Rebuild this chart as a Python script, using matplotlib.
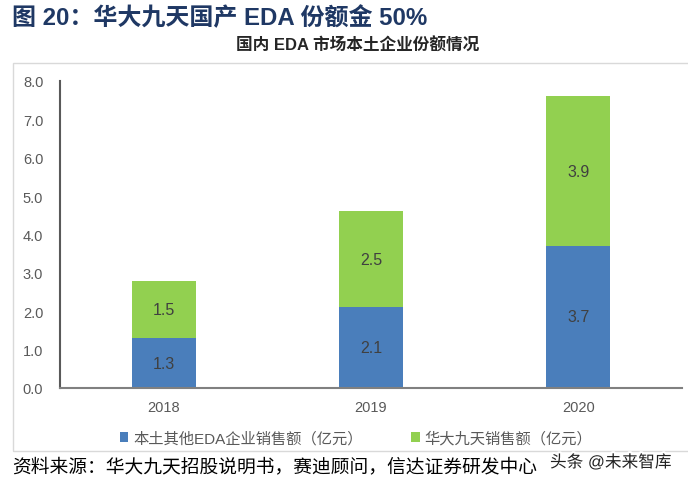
import matplotlib.pyplot as plt
import matplotlib.patheffects as pe
from matplotlib.patches import Rectangle

plt.rcParams['font.family'] = ['Liberation Sans', 'Noto Sans CJK SC', 'DejaVu Sans']

years = ['2018', '2019', '2020']
others = [1.3, 2.1, 3.7]
empyrean = [1.5, 2.5, 3.9]

blue = '#4A7EBB'
green = '#92D050'

fig = plt.figure(figsize=(6.88, 4.85), dpi=100)
ax = fig.add_axes([0.0872, 0.198, 0.904, 0.633])

x = range(len(years))
b1 = ax.bar(x, others, width=0.31, color=blue, label='本土其他EDA企业销售额（亿元）')
b2 = ax.bar(x, empyrean, width=0.31, bottom=others, color=green, label='华大九天销售额（亿元）')

for i in x:
    ax.text(i, others[i] / 2, f'{others[i]:.1f}', ha='center', va='center',
            fontsize=11.5, color='#404040')
    ax.text(i, others[i] + empyrean[i] / 2, f'{empyrean[i]:.1f}', ha='center', va='center',
            fontsize=11.5, color='#404040')

ax.set_xlim(-0.5, 2.5)
ax.set_ylim(0, 8)
ax.set_yticks([i for i in range(9)])
ax.set_yticklabels([f'{i:.1f}' for i in range(9)])
ax.set_xticks(list(x))
ax.set_xticklabels(years)
ax.tick_params(axis='both', length=0, labelsize=10.5, colors='#595959')
ax.tick_params(axis='y', pad=12)
ax.tick_params(axis='x', pad=9)
ax.spines['top'].set_visible(False)
ax.spines['right'].set_visible(False)
ax.spines['left'].set_color('#595959')
ax.spines['left'].set_linewidth(1.5)
ax.spines['bottom'].set_color('#808080')
ax.spines['bottom'].set_linewidth(1.5)

# chart frame
fig.patches.append(Rectangle((13 / 688, 1 - 452 / 485), 690 / 688, (452 - 64) / 485,
                             transform=fig.transFigure, fill=False,
                             edgecolor='#D9D9D9', linewidth=1))

fig.text(12 / 688, 1 - 18 / 485, '图 20：华大九天国产 EDA 份额金 50%', fontsize=17.3,
         fontweight='bold', color='#1F3864', va='center', ha='left')
fig.text(358 / 688, 1 - 46 / 485, '国内 EDA 市场本土企业份额情况', fontsize=12,
         fontweight='bold', color='#262626', va='center', ha='center')

fig.legend(handles=[b1, b2], loc='center', bbox_to_anchor=(356 / 688, 1 - 439 / 485),
           ncol=2, frameon=False, fontsize=11, labelcolor='#595959',
           handlelength=0.55, handleheight=0.55, columnspacing=3.2, handletextpad=0.3)

fig.text(12 / 688, 1 - 467 / 485, '资料来源：华大九天招股说明书，赛迪顾问，信达证券研发中心',
         fontsize=13.5, color='#000000', va='center', ha='left')
fig.text(550 / 688, 1 - 463 / 485, '头条 @未来智库', fontsize=12, color='#222222',
         va='center', ha='left',
         path_effects=[pe.withStroke(linewidth=3, foreground='white')])

fig.savefig('out.png', dpi=100)
